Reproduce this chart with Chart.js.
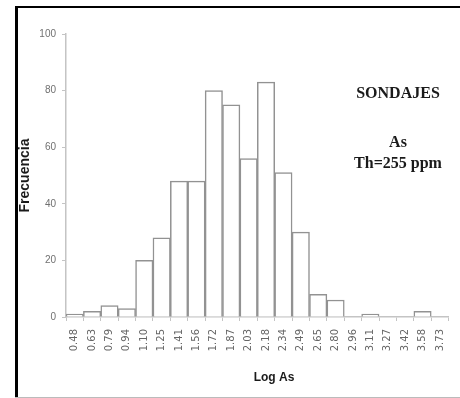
<!DOCTYPE html>
<html>
<head>
<meta charset="utf-8">
<script src="https://cdn.jsdelivr.net/npm/chart.js@4"></script>
<style>
  html, body { margin: 0; padding: 0; background: #fff; }
  #wrap { position: relative; width: 460px; height: 398px; }
</style>
</head>
<body>
<div id="wrap"><canvas id="hist" width="460" height="398"></canvas></div>
<script>
// class marks (Log As) and counts
const categories = ['0.48', '0.63', '0.79', '0.94', '1.10', '1.25', '1.41', '1.56', '1.72', '1.87', '2.03',
  '2.18', '2.34', '2.49', '2.65', '2.80', '2.96', '3.11', '3.27', '3.42', '3.58', '3.73'];
const counts = [1, 2, 4, 3, 20, 28, 48, 48, 80, 75, 56, 83, 51, 30, 8, 6, 0, 1, 0, 0, 2, 0];
const yTicks = [0, 20, 40, 60, 80, 100];
const noteLines = ['SONDAJES', '', 'As', 'Th=255 ppm'];
const xTitle = 'Log As';

// frame of the scanned figure, the x title (sits right of centre in the original) and the text box
const framePlugin = {
  id: 'frame',
  afterDraw(chart) {
    const ctx = chart.ctx;
    ctx.save();
    ctx.fillStyle = '#000';
    ctx.fillRect(15, 6, 3, 392);
    ctx.fillRect(15, 6, 445, 2);
    ctx.fillStyle = '#bbb';
    ctx.fillRect(15, 397, 445, 1);

    ctx.textAlign = 'center';
    ctx.textBaseline = 'middle';
    ctx.fillStyle = '#1a1a1a';
    ctx.font = 'bold 12px Arial, "Liberation Sans", sans-serif';
    ctx.fillText(xTitle, 274, 378);

    ctx.font = 'bold 16px "Liberation Serif", "Times New Roman", serif';
    const cx = 398;
    const ys = [94, 118, 143, 164];
    noteLines.forEach((t, i) => { if (t) ctx.fillText(t, cx, ys[i]); });
    ctx.restore();
  }
};

new Chart(document.getElementById('hist'), {
  type: 'bar',
  data: {
    labels: categories,
    datasets: [{
      data: counts,
      backgroundColor: '#ffffff',
      borderColor: '#929292',
      borderWidth: 1.5,
      categoryPercentage: 1.0,
      barPercentage: 1.0
    }]
  },
  options: {
    responsive: false,
    animation: false,
    layout: { padding: { top: 34, right: 3, bottom: 0, left: 0 } },
    plugins: {
      legend: { display: false },
      tooltip: { enabled: false }
    },
    scales: {
      x: {
        afterFit: (s) => { s.height = 81; },
        grid: { drawOnChartArea: false, offset: true, tickLength: 4, color: '#c4c4c4', lineWidth: 1 },
        border: { display: true, color: '#c4c4c4', width: 1.5 },
        ticks: {
          minRotation: 90, maxRotation: 90, autoSkip: false, padding: 8,
          color: '#666', font: { family: '"DejaVu Sans", Arial, sans-serif', size: 10 }
        },
        title: { display: false }
      },
      y: {
        min: 0, max: 100,
        afterFit: (s) => { s.width = 66; },
        afterBuildTicks: (s) => { s.ticks = yTicks.map(v => ({ value: v })); },
        grid: { drawOnChartArea: false, tickLength: 4, color: '#c4c4c4' },
        border: { display: true, color: '#c4c4c4', width: 1.5 },
        ticks: {
          padding: 6, color: '#707070',
          font: { family: 'Arial, "Liberation Sans", sans-serif', size: 10 }
        },
        title: {
          display: true, text: 'Frecuencia', color: '#1a1a1a',
          font: { family: 'Arial, "Liberation Sans", sans-serif', size: 14, weight: 'bold' },
          padding: { top: 17, bottom: 0 }
        }
      }
    }
  },
  plugins: [framePlugin]
});
</script>
</body>
</html>
